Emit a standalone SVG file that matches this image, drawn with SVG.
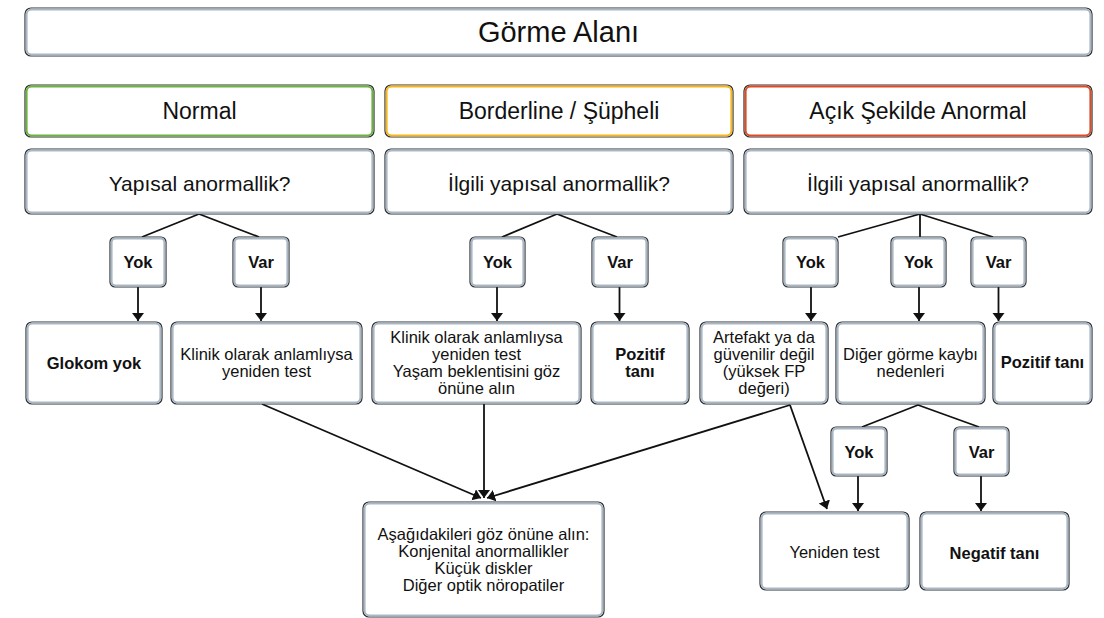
<svg xmlns="http://www.w3.org/2000/svg" width="1104" height="618" viewBox="0 0 1104 618">
  <style>
    .o { fill: #ffffff; stroke: #2e3033; stroke-width: 1.2; }
    .i { fill: none; stroke: #a9b7c5; stroke-width: 2; }
    .green .i { stroke: #6cb33f; }
    .yellow .i { stroke: #f5b51c; }
    .red .i { stroke: #de4c26; }
    text { font-family: "Liberation Sans", Arial, Helvetica, sans-serif; fill: #111111; text-anchor: middle; }
    .title { font-size: 29px; }
    .head { font-size: 23px; }
    .q { font-size: 21px; }
    .s { font-size: 16.5px; }
    .b { font-size: 16.5px; font-weight: bold; }
    .edge { fill: none; stroke: #111111; stroke-width: 1.8; }
    .arr { marker-end: url(#tip); }
  </style>
  <defs>
    <marker id="tip" markerUnits="userSpaceOnUse" markerWidth="12" markerHeight="13" refX="8" refY="6" orient="auto">
      <path d="M0,0 L8,6 L0,12 Z" fill="#111111"/>
    </marker>
  </defs>

  <!-- connectors -->
  <g id="connectors">
    <!-- Normal column -->
    <path class="edge" d="M199,214 L142,237"/>
    <path class="edge" d="M199,214 L259,237"/>
    <path class="edge arr" d="M138,287 V321"/>
    <path class="edge arr" d="M261,287 V321"/>
    <!-- Borderline column -->
    <path class="edge" d="M557,214 L502,237"/>
    <path class="edge" d="M557,214 L617,237"/>
    <path class="edge arr" d="M497,287 V321"/>
    <path class="edge arr" d="M619.5,287 V321"/>
    <!-- Clearly abnormal column -->
    <path class="edge" d="M920,214 L838,237"/>
    <path class="edge" d="M920,214 V237"/>
    <path class="edge" d="M920,214 L993,237"/>
    <path class="edge arr" d="M811,287 V321"/>
    <path class="edge arr" d="M919,287 V321"/>
    <path class="edge arr" d="M998.5,287 V321"/>
    <!-- other causes branch -->
    <path class="edge" d="M918,405 L862,427"/>
    <path class="edge" d="M918,405 L979,427"/>
    <path class="edge arr" d="M858,476 V511"/>
    <path class="edge arr" d="M981,476 V511"/>
    <!-- artefact to retest -->
    <path class="edge arr" d="M790,405 L827,509"/>
    <!-- converging on the bottom box -->
    <path class="edge arr" d="M262,404 L481,498"/>
    <path class="edge arr" d="M484,404 V498"/>
    <path class="edge arr" d="M790,405 L487,498"/>
  </g>

  <g id="n-title"><rect class="o" x="25" y="8" width="1067" height="48" rx="6"/><rect class="i" x="26.6" y="9.6" width="1063.8" height="44.8" rx="5"/><text class="title" x="558.5" y="42">Görme Alanı</text></g>

  <g id="n-normal" class="green"><rect class="o" x="25" y="85" width="349" height="52" rx="6"/><rect class="i" x="26.6" y="86.6" width="345.8" height="48.8" rx="5"/><text class="head" x="199.5" y="119">Normal</text></g>
  <g id="n-borderline" class="yellow"><rect class="o" x="385" y="85" width="348" height="52" rx="6"/><rect class="i" x="386.6" y="86.6" width="344.8" height="48.8" rx="5"/><text class="head" x="559" y="119">Borderline / Şüpheli</text></g>
  <g id="n-abnormal" class="red"><rect class="o" x="744" y="85" width="348" height="52" rx="6"/><rect class="i" x="745.6" y="86.6" width="344.8" height="48.8" rx="5"/><text class="head" x="918" y="119">Açık Şekilde Anormal</text></g>

  <g id="n-q1"><rect class="o" x="25" y="149" width="349" height="65" rx="6"/><rect class="i" x="26.6" y="150.6" width="345.8" height="61.8" rx="5"/><text class="q" x="199.5" y="191">Yapısal anormallik?</text></g>
  <g id="n-q2"><rect class="o" x="385" y="149" width="348" height="65" rx="6"/><rect class="i" x="386.6" y="150.6" width="344.8" height="61.8" rx="5"/><text class="q" x="559" y="191">İlgili yapısal anormallik?</text></g>
  <g id="n-q3"><rect class="o" x="744" y="149" width="348" height="65" rx="6"/><rect class="i" x="745.6" y="150.6" width="344.8" height="61.8" rx="5"/><text class="q" x="918" y="191">İlgili yapısal anormallik?</text></g>

  <g id="n-yok1"><rect class="o" x="110" y="237" width="56" height="50" rx="5"/><rect class="i" x="111.6" y="238.6" width="52.8" height="46.8" rx="4"/><text class="b" x="138" y="268">Yok</text></g>
  <g id="n-var1"><rect class="o" x="233" y="237" width="56" height="50" rx="5"/><rect class="i" x="234.6" y="238.6" width="52.8" height="46.8" rx="4"/><text class="b" x="261" y="268">Var</text></g>
  <g id="n-yok2"><rect class="o" x="470" y="237" width="55" height="50" rx="5"/><rect class="i" x="471.6" y="238.6" width="51.8" height="46.8" rx="4"/><text class="b" x="497.5" y="268">Yok</text></g>
  <g id="n-var2"><rect class="o" x="592" y="237" width="56" height="50" rx="5"/><rect class="i" x="593.6" y="238.6" width="52.8" height="46.8" rx="4"/><text class="b" x="620" y="268">Var</text></g>
  <g id="n-yok3a"><rect class="o" x="783" y="237" width="55" height="50" rx="5"/><rect class="i" x="784.6" y="238.6" width="51.8" height="46.8" rx="4"/><text class="b" x="810.5" y="268">Yok</text></g>
  <g id="n-yok3b"><rect class="o" x="891" y="237" width="55" height="50" rx="5"/><rect class="i" x="892.6" y="238.6" width="51.8" height="46.8" rx="4"/><text class="b" x="918.5" y="268">Yok</text></g>
  <g id="n-var3"><rect class="o" x="971" y="237" width="55" height="50" rx="5"/><rect class="i" x="972.6" y="238.6" width="51.8" height="46.8" rx="4"/><text class="b" x="998.5" y="268">Var</text></g>

  <g id="n-glokom"><rect class="o" x="26" y="322" width="136" height="82" rx="6"/><rect class="i" x="27.6" y="323.6" width="132.8" height="78.8" rx="5"/><text class="b" x="94" y="369">Glokom yok</text></g>
  <g id="n-retest1"><rect class="o" x="171" y="322" width="191" height="82" rx="6"/><rect class="i" x="172.6" y="323.6" width="187.8" height="78.8" rx="5"/><text class="s" x="266.5"><tspan x="266.5" y="360">Klinik olarak anlamlıysa</tspan><tspan x="266.5" y="377">yeniden test</tspan></text></g>
  <g id="n-retest2"><rect class="o" x="372" y="322" width="209" height="82" rx="6"/><rect class="i" x="373.6" y="323.6" width="205.8" height="78.8" rx="5"/><text class="s" x="476.5"><tspan x="476.5" y="343">Klinik olarak anlamlıysa</tspan><tspan x="476.5" y="360">yeniden test</tspan><tspan x="476.5" y="377">Yaşam beklentisini göz</tspan><tspan x="476.5" y="394">önüne alın</tspan></text></g>
  <g id="n-pos1"><rect class="o" x="591" y="322" width="98" height="82" rx="6"/><rect class="i" x="592.6" y="323.6" width="94.8" height="78.8" rx="5"/><text class="b" x="640"><tspan x="640" y="360">Pozitif</tspan><tspan x="640" y="377">tanı</tspan></text></g>
  <g id="n-artefact"><rect class="o" x="700" y="322" width="128" height="82" rx="6"/><rect class="i" x="701.6" y="323.6" width="124.8" height="78.8" rx="5"/><text class="s" x="764"><tspan x="764" y="343">Artefakt ya da</tspan><tspan x="764" y="360">güvenilir değil</tspan><tspan x="764" y="377">(yüksek FP</tspan><tspan x="764" y="394">değeri)</tspan></text></g>
  <g id="n-other"><rect class="o" x="836" y="322" width="149" height="82" rx="6"/><rect class="i" x="837.6" y="323.6" width="145.8" height="78.8" rx="5"/><text class="s" x="910.5"><tspan x="910.5" y="360">Diğer görme kaybı</tspan><tspan x="910.5" y="377">nedenleri</tspan></text></g>
  <g id="n-pos2"><rect class="o" x="993" y="322" width="99" height="82" rx="6"/><rect class="i" x="994.6" y="323.6" width="95.8" height="78.8" rx="5"/><text class="b" x="1042.5" y="368">Pozitif tanı</text></g>

  <g id="n-yok4"><rect class="o" x="831" y="427" width="56" height="49" rx="5"/><rect class="i" x="832.6" y="428.6" width="52.8" height="45.8" rx="4"/><text class="b" x="859" y="458">Yok</text></g>
  <g id="n-var4"><rect class="o" x="954" y="427" width="55" height="49" rx="5"/><rect class="i" x="955.6" y="428.6" width="51.8" height="45.8" rx="4"/><text class="b" x="981.5" y="458">Var</text></g>

  <g id="n-consider"><rect class="o" x="363" y="502" width="241" height="115" rx="6"/><rect class="i" x="364.6" y="503.6" width="237.8" height="111.8" rx="5"/><text class="s" x="483.5"><tspan x="483.5" y="540">Aşağıdakileri göz önüne alın:</tspan><tspan x="483.5" y="557">Konjenital anormallikler</tspan><tspan x="483.5" y="574">Küçük diskler</tspan><tspan x="483.5" y="591">Diğer optik nöropatiler</tspan></text></g>
  <g id="n-retest3"><rect class="o" x="760" y="512" width="149" height="78" rx="6"/><rect class="i" x="761.6" y="513.6" width="145.8" height="74.8" rx="5"/><text class="s" x="834.5" y="558">Yeniden test</text></g>
  <g id="n-negative"><rect class="o" x="920" y="512" width="149" height="78" rx="6"/><rect class="i" x="921.6" y="513.6" width="145.8" height="74.8" rx="5"/><text class="b" x="994.5" y="559">Negatif tanı</text></g>
</svg>
